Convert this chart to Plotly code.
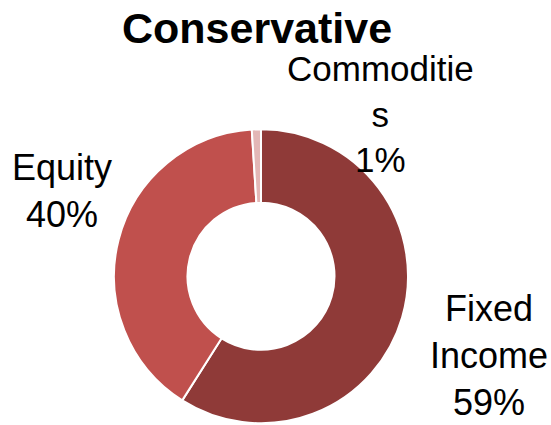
import plotly.graph_objects as go

# Asset allocation for the conservative portfolio
categories = ["Fixed Income", "Equity", "Commodities"]
shares = [59, 40, 1]
label_text = ["Fixed<br>Income<br>59%", "Equity<br>40%", "Commoditie<br>s<br>1%"]
slice_colors = ["#8F3A38", "#C0504D", "#E3B7B6"]
title_text = "Conservative"

W, H = 551, 425
FONT = "Liberation Sans, Arial, sans-serif"

fig = go.Figure()
fig.add_trace(go.Pie(
    labels=categories,
    values=shares,
    sort=False,
    direction="clockwise",
    rotation=0,
    hole=0.5,
    textinfo="none",
    hoverinfo="label+percent",
    marker=dict(colors=slice_colors, line=dict(color="white", width=2)),
    domain=dict(x=[114 / W, 408 / W], y=[0.0, 0.70]),
    showlegend=False,
))

# Data labels placed outside the ring
label_pos = [(489 / W, 1 - 355 / H), (62 / W, 1 - 191 / H), (380 / W, 1 - 114 / H)]
label_sizes = [36, 36, 35]
for (lx, ly), txt, sz in zip(label_pos, label_text, label_sizes):
    fig.add_annotation(
        x=lx, y=ly, xref="paper", yref="paper",
        text=txt, showarrow=False, align="center",
        xanchor="center", yanchor="middle",
        font=dict(family=FONT, size=sz, color="#000000"),
    )

fig.add_annotation(
    x=257 / W, y=1 - 28 / H, xref="paper", yref="paper",
    text=f"<b>{title_text}</b>", showarrow=False,
    xanchor="center", yanchor="middle",
    font=dict(family=FONT, size=43, color="#000000"),
)

fig.update_layout(
    width=W, height=H,
    margin=dict(l=0, r=0, t=0, b=0),
    paper_bgcolor="white",
    plot_bgcolor="white",
)

fig.write_html("out.html")
